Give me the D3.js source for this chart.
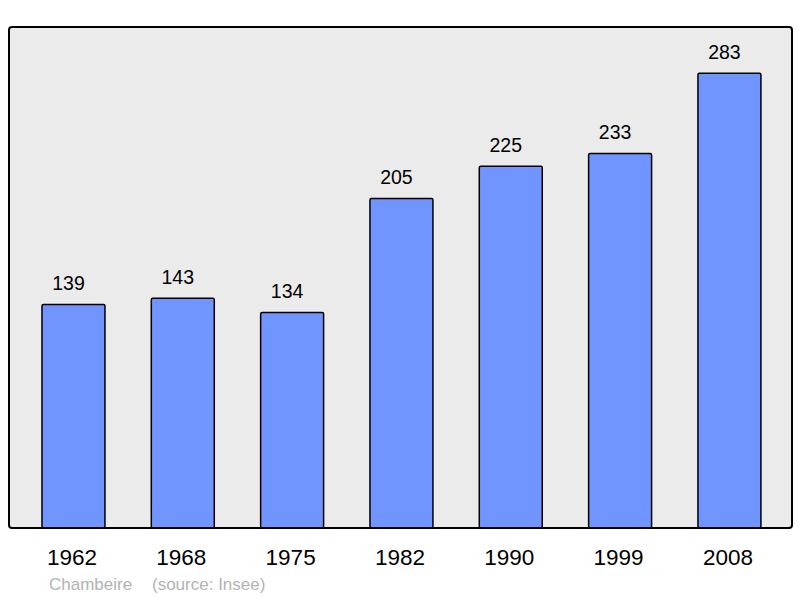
<!DOCTYPE html>
<html>
<head>
<meta charset="utf-8">
<script src="https://cdn.jsdelivr.net/npm/d3@7"></script>
<style>
  body { margin: 0; background: #ffffff; }
  text { font-family: "Liberation Sans", Arial, sans-serif; }
</style>
</head>
<body>
<div id="graph"></div>
<script>
// ------DATA------
const years = ["1962", "1968", "1975", "1982", "1990", "1999", "2008"]
const population = [139, 143, 134, 205, 225, 233, 283]
const footerName = "Chambeire"
const footerSource = "(source: Insee)"

// ------SETUP------
const width = 800
const height = 598
// plot frame
const frame = { left: 9, top: 27, right: 792, bottom: 528 }

const svg = d3.select('#graph')
  .append("svg")
    .attr("width", width)
    .attr("height", height)

// background panel
svg.append("rect")
  .attr("x", frame.left)
  .attr("y", frame.top)
  .attr("width", frame.right - frame.left)
  .attr("height", frame.bottom - frame.top)
  .attr("rx", 3)
  .style("fill", "#ebebeb")

// scales
const xScale = d3.scaleBand()
  .domain(years)
  .range([18.8, 784.1])
  .paddingInner(0.424)
  .paddingOuter(0.212)

const yScale = d3.scaleLinear()
  .domain([0, 311.7])
  .range([frame.bottom, frame.top])

const rows = years.map((y, i) => ({ year: y, value: population[i] }))

// bars
svg.selectAll(".bar").data(rows).enter()
  .append("rect")
    .attr("class", "bar")
    .attr("x", d => xScale(d.year))
    .attr("y", d => yScale(d.value))
    .attr("width", xScale.bandwidth())
    .attr("height", d => yScale(0) - yScale(d.value))
    .attr("rx", 1.5)
    .style("fill", "#7095ff")
    .style("stroke", "#000")
    .style("stroke-width", 1.5)

// value labels above each bar (sit a little left of the bar centre in the original)
svg.selectAll(".value").data(rows).enter()
  .append("text")
    .attr("class", "value")
    .attr("x", d => xScale(d.year) + xScale.bandwidth() / 2 - 5)
    .attr("y", d => yScale(d.value) - 14.5)
    .attr("text-anchor", "middle")
    .style("font-size", "19.5px")
    .style("fill", "#000")
    .text(d => d.value)

// frame drawn on top
svg.append("rect")
  .attr("x", frame.left)
  .attr("y", frame.top)
  .attr("width", frame.right - frame.left)
  .attr("height", frame.bottom - frame.top)
  .attr("rx", 3)
  .style("fill", "none")
  .style("stroke", "#000")
  .style("stroke-width", 2)

// x axis (labels only)
const xAxis = svg.append("g")
  .attr("transform", `translate(-1.5, ${frame.bottom})`)
  .call(d3.axisBottom(xScale).tickSize(0).tickPadding(0))
xAxis.select(".domain").remove()
xAxis.selectAll("text")
  .attr("y", 37)
  .attr("dy", 0)
  .style("font-size", "22.5px")
  .style("font-family", "'Liberation Sans', Arial, sans-serif")
  .style("fill", "#000")

// footer
svg.append("text")
  .attr("x", 49)
  .attr("y", 590)
  .style("font-size", "17px")
  .style("fill", "#b3b3b3")
  .text(footerName)
svg.append("text")
  .attr("x", 152)
  .attr("y", 590)
  .style("font-size", "17px")
  .style("fill", "#b3b3b3")
  .text(footerSource)
</script>
</body>
</html>
